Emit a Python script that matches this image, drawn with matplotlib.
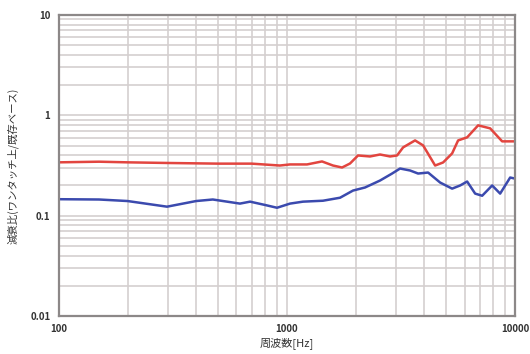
import matplotlib
matplotlib.use("Agg")
import matplotlib.pyplot as plt
from matplotlib.ticker import LogLocator, FixedLocator, FixedFormatter, NullFormatter

plt.rcParams['font.family'] = ['Noto Sans CJK JP', 'DejaVu Sans']

red_freq = [100, 150, 200, 300, 500, 700, 930, 1031, 1224, 1424, 1591, 1743, 1889, 2048,
            2312, 2557, 2830, 3037, 3228, 3642, 3950, 4459, 4833, 5293, 5623, 6160, 6882,
            7770, 8770, 10000]
red_val = [0.34, 0.345, 0.34, 0.335, 0.33, 0.33, 0.316, 0.324, 0.324, 0.347, 0.316, 0.302,
           0.331, 0.398, 0.389, 0.407, 0.389, 0.398, 0.479, 0.562, 0.501, 0.316, 0.339,
           0.417, 0.562, 0.603, 0.794, 0.741, 0.550, 0.550]

blue_freq = [100, 150, 200, 298, 400, 473, 622, 689, 800, 904, 1031, 1175, 1438, 1708, 1947,
             2198, 2557, 2888, 3130, 3463, 3754, 4154, 4688, 5293, 5740, 6160, 6678, 7167,
             7929, 8594, 9508, 10000]
blue_val = [0.146, 0.145, 0.14, 0.123, 0.14, 0.145, 0.132, 0.138, 0.128, 0.120, 0.132, 0.138,
            0.141, 0.151, 0.178, 0.191, 0.224, 0.263, 0.295, 0.282, 0.263, 0.269, 0.214,
            0.186, 0.200, 0.219, 0.166, 0.158, 0.200, 0.166, 0.240, 0.234]

x_ticks = [100, 1000, 10000]
x_labels = ["100", "1000", "10000"]
y_ticks = [0.01, 0.1, 1, 10]
y_labels = ["0.01", "0.1", "1", "10"]
x_title = "周波数[Hz]"
y_title = "減衰比(ワンタッチ上/既存ベース)"

fig = plt.figure(figsize=(5.3, 3.54), dpi=100)
ax = fig.add_axes([0.111, 0.107, 0.861, 0.851])
ax.set_xscale('log')
ax.set_yscale('log')
ax.set_xlim(100, 10000)
ax.set_ylim(0.01, 10)

ax.plot(red_freq, red_val, color='#e2453f', lw=1.8, solid_joinstyle='round')
ax.plot(blue_freq, blue_val, color='#3b4aae', lw=1.8, solid_joinstyle='round')

ax.xaxis.set_major_locator(FixedLocator(x_ticks))
ax.xaxis.set_major_formatter(FixedFormatter(x_labels))
ax.yaxis.set_major_locator(FixedLocator(y_ticks))
ax.yaxis.set_major_formatter(FixedFormatter(y_labels))
ax.xaxis.set_minor_locator(LogLocator(base=10, subs=range(2, 10)))
ax.yaxis.set_minor_locator(LogLocator(base=10, subs=range(2, 10)))
ax.xaxis.set_minor_formatter(NullFormatter())
ax.yaxis.set_minor_formatter(NullFormatter())

ax.grid(True, which='both', color='#d4cfcf', lw=1.2)
ax.set_axisbelow(True)
ax.tick_params(which='both', length=0, labelsize=7, colors='#333333', pad=6)
for lab in ax.get_xticklabels() + ax.get_yticklabels():
    lab.set_fontweight('bold')

for s in ax.spines.values():
    s.set_color('#8c8888')
    s.set_linewidth(1.6)

ax.set_xlabel(x_title, fontsize=8, color='#333333', labelpad=2)
ax.set_ylabel(y_title, fontsize=7.5, color='#333333', labelpad=8)

fig.savefig('out.png', dpi=100)
